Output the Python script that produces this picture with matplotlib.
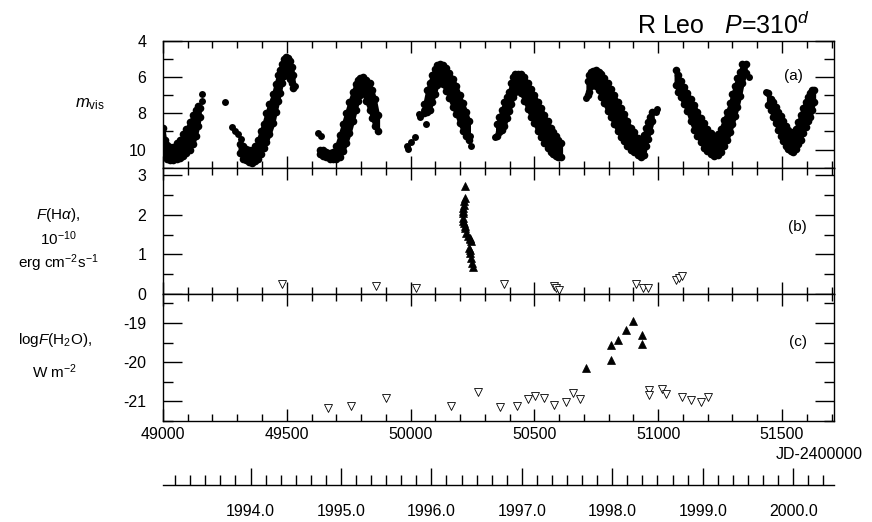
import numpy as np
import matplotlib
matplotlib.use("Agg")
import matplotlib.pyplot as plt

plt.rcParams['font.family'] = ['Liberation Sans', 'DejaVu Sans']
plt.rcParams['mathtext.fontset'] = 'custom'
plt.rcParams['mathtext.rm'] = 'Liberation Sans'
plt.rcParams['mathtext.it'] = 'Liberation Sans:italic'
plt.rcParams['axes.linewidth'] = 1.0

# (a) visual light curve: dense band read as bright / faint edges
jd_vis = [49001, 49008, 49015, 49028, 49042, 49055, 49068, 49082, 49095, 49108, 49122, 49132, 49142, 49148,
          49310, 49322, 49335, 49348, 49360, 49372, 49384, 49394, 49406, 49418, 49430, 49445, 49455, 49465,
          49472, 49479, 49488, 49496, 49504, 49512, 49520, 49527,
          49633, 49645, 49660, 49673, 49688, 49700, 49714, 49727, 49740, 49753, 49767, 49778, 49787, 49797,
          49808, 49820, 49835, 49845, 49855, 49868,
          50056, 50068, 50077, 50087, 50097, 50107, 50117, 50130, 50144, 50157, 50171, 50185, 50198, 50211,
          50224, 50235,
          50350, 50359, 50369, 50379, 50389, 50399, 50407, 50413, 50422, 50433, 50446, 50460, 50473, 50487,
          50500, 50513, 50527, 50540, 50553, 50567, 50577, 50587, 50597, 50607,
          50715, 50722, 50728, 50738, 50749, 50759, 50769, 50782, 50796, 50809, 50822, 50836, 50849, 50862,
          50876, 50890, 50903, 50917, 50930, 50943, 50950, 50957, 50967, 50977,
          51071, 51081, 51091, 51104, 51118, 51131, 51145, 51158, 51172, 51185, 51199, 51212, 51226, 51240,
          51253, 51266, 51279, 51290, 51300, 51310, 51320, 51330, 51340, 51353,
          51444, 51454, 51464, 51474, 51485, 51495, 51505, 51515, 51525, 51535, 51545, 51555, 51565, 51575,
          51585, 51595, 51605, 51615, 51622, 51629]
mvis_bright = [8.8, 9.5, 9.75, 9.85, 9.85, 9.65, 9.5, 9.15, 8.85, 8.5, 8.1, 7.8, 7.6, 7.7,
               9.7, 9.8, 9.95, 10.0, 10.05, 9.8, 9.5, 9.0, 8.6, 8.0, 7.5, 6.95, 6.4, 5.9,
               5.6, 5.25, 5.0, 4.9, 4.95, 5.1, 5.45, 5.9,
               10.0, 10.05, 10.15, 10.2, 10.15, 9.8, 9.2, 8.6, 8.0, 7.4, 6.8, 6.4, 6.15, 6.05,
               6.0, 6.15, 6.35, 6.7, 7.2, 8.1,
               7.5, 6.7, 6.3, 5.9, 5.55, 5.35, 5.3, 5.35, 5.5, 5.75, 6.1, 6.5, 7.0, 7.45,
               7.9, 8.4,
               8.6, 8.2, 7.8, 7.4, 7.1, 6.8, 6.3, 6.0, 5.85, 5.8, 5.85, 6.0, 6.3, 6.65,
               7.0, 7.35, 7.7, 8.1, 8.45, 8.8, 9.05, 9.25, 9.45, 9.65,
               6.2, 5.9, 5.7, 5.65, 5.62, 5.7, 5.85, 6.05, 6.3, 6.65, 7.0, 7.35, 7.7, 8.05,
               8.45, 8.8, 9.05, 9.35, 9.65, 9.2, 8.8, 8.5, 8.2, 7.9,
               5.6, 5.9, 6.2, 6.55, 6.85, 7.2, 7.55, 7.9, 8.25, 8.55, 8.85, 9.1, 9.3, 9.15,
               8.85, 8.35, 7.9, 7.45, 6.95, 6.5, 6.05, 5.7, 5.3, 5.25,
               6.9, 7.2, 7.4, 7.65, 7.9, 8.15, 8.4, 8.7, 8.9, 9.1, 9.05, 8.85, 8.5, 8.1,
               7.7, 7.35, 7.1, 6.9, 6.7, 6.7]
mvis_faint = [9.5, 10.35, 10.5, 10.6, 10.6, 10.5, 10.45, 10.35, 10.2, 10.0, 9.7, 9.25, 8.7, 8.2,
              10.2, 10.5, 10.6, 10.7, 10.75, 10.65, 10.5, 10.25, 9.9, 9.6, 9.15, 8.55, 7.9, 7.3,
              6.85, 6.35, 5.95, 5.7, 5.85, 6.1, 6.35, 6.6,
              10.25, 10.35, 10.4, 10.5, 10.55, 10.5, 10.4, 10.1, 9.65, 9.1, 8.4, 7.8, 7.3, 7.0,
              6.85, 7.3, 7.8, 8.25, 8.7, 9.0,
              8.0, 7.9, 7.8, 7.35, 6.95, 6.45, 6.15, 6.4, 6.75, 7.15, 7.65, 8.05, 8.55, 8.95,
              9.25, 9.45,
              9.25, 9.05, 8.9, 8.7, 8.25, 7.85, 7.5, 7.1, 6.8, 6.7, 6.9, 7.3, 7.75, 8.2,
              8.55, 8.95, 9.3, 9.65, 9.9, 10.15, 10.25, 10.35, 10.4, 10.4,
              7.0, 6.8, 6.5, 6.4, 6.5, 6.7, 7.1, 7.45, 7.85, 8.2, 8.6, 8.95, 9.3, 9.55,
              9.8, 10.0, 10.15, 10.3, 10.4, 10.3, 9.8, 9.4, 8.95, 8.45,
              6.45, 6.8, 7.1, 7.5, 7.85, 8.4, 8.9, 9.25, 9.6, 9.9, 10.1, 10.25, 10.35, 10.3,
              10.15, 9.8, 9.45, 9.05, 8.6, 8.15, 7.65, 7.05, 6.35, 5.75,
              7.55, 7.8, 8.2, 8.55, 8.9, 9.25, 9.55, 9.8, 9.95, 10.1, 10.15, 9.95, 9.7, 9.45,
              9.1, 8.75, 8.45, 8.2, 7.8, 7.35]
jd_vis_single = [49156, 49157, 49250, 49277, 49290, 49304, 49317, 49532, 49626, 49640, 49984, 49989,
                 50003, 50016, 50036, 50040, 50063, 50056, 50240, 50245, 50339, 50708, 50990, 50997,
                 51367, 51434]
mvis_single = [6.96, 7.3, 7.35, 8.73, 8.97, 9.15, 9.42, 6.5, 9.06, 9.28, 9.8, 9.97,
               9.6, 9.33, 8.05, 8.2, 8.6, 7.8, 9.24, 9.83, 9.33, 7.14, 7.9, 7.78,
               5.99, 6.83]

# (b) H-alpha flux, 1e-10 erg cm-2 s-1
jd_ha = [50218, 50218, 50216, 50214, 50212, 50211, 50211, 50211, 50213, 50215, 50218, 50221, 50224,
         50231, 50238, 50242, 50245, 50236, 50238, 50242, 50245, 50249, 50251]
f_ha = [2.71, 2.42, 2.33, 2.25, 2.17, 2.1, 2.04, 1.92, 1.85, 1.79, 1.72, 1.67, 1.54,
        1.47, 1.42, 1.38, 1.33, 1.17, 1.1, 1.04, 0.92, 0.79, 0.68]
jd_ha_lim = [49479, 49862, 50023, 50379, 50580, 50587, 50600, 50910, 50937, 50957, 51071, 51085, 51098]
f_ha_lim = [0.25, 0.21, 0.17, 0.25, 0.21, 0.15, 0.12, 0.25, 0.16, 0.16, 0.37, 0.42, 0.47]

# (c) log F(H2O), W m-2
jd_h2o = [50708, 50809, 50809, 50836, 50870, 50900, 50933, 50933]
logf_h2o = [-20.15, -19.94, -19.56, -19.43, -19.18, -18.94, -19.32, -19.53]
jd_h2o_lim = [49667, 49761, 49902, 50164, 50272, 50363, 50430, 50473, 50504, 50540, 50578, 50628,
              50655, 50684, 50964, 50964, 51017, 51031, 51095, 51132, 51172, 51203]
logf_h2o_lim = [-21.18, -21.12, -20.91, -21.12, -20.76, -21.14, -21.12, -20.95, -20.87, -20.91, -21.08,
                -21.02, -20.78, -20.93, -20.72, -20.85, -20.68, -20.82, -20.89, -20.97, -21.02, -20.89]

years = [1994, 1995, 1996, 1997, 1998, 1999, 2000]

x_lo, x_hi = 49000, 51710


def year_to_jd(y):
    return 49353.5 + (np.asarray(y) - 1994.0) * 365.25


def style_axis(ax, ymajor, yminor):
    ax.set_xlim(x_lo, x_hi)
    ax.set_xticks(np.arange(49000, 51701, 500))
    ax.set_xticks(np.arange(49000, 51701, 100), minor=True)
    ax.set_yticks(ymajor)
    ax.set_yticks(yminor, minor=True)
    ax.tick_params(axis='both', which='both', direction='in', top=True, right=True,
                   labelsize=11.5, width=1.0)
    ax.tick_params(axis='x', which='major', length=8.5)
    ax.tick_params(axis='x', which='minor', length=5)
    ax.tick_params(axis='y', which='major', length=13.5, pad=12)
    ax.tick_params(axis='y', which='minor', length=7)
    ax.tick_params(axis='x', labelbottom=False)


fig = plt.figure(figsize=(8.72, 5.22), dpi=100)
left, width, h = 0.1869, 0.7695, 0.2427
ax_a = fig.add_axes([left, 0.1935 + 2 * h, width, h])
ax_b = fig.add_axes([left, 0.1935 + h, width, h])
ax_c = fig.add_axes([left, 0.1935, width, h])

# panel (a)
jd = np.array(jd_vis)
mb = np.array(mvis_bright)
mf = np.array(mvis_faint)
breaks = np.where(np.diff(jd) > 40)[0] + 1
for seg in np.split(np.arange(len(jd)), breaks):
    ax_a.fill_between(jd[seg], mb[seg], mf[seg], facecolor='k', edgecolor='k', lw=2.5)
ax_a.plot(jd, mb, 'o', color='k', ms=5.5, mew=0)
ax_a.plot(jd, mf, 'o', color='k', ms=5.5, mew=0)
ax_a.plot(jd_vis_single, mvis_single, 'o', color='k', ms=5, mew=0)
ax_a.set_ylim(11, 4)
style_axis(ax_a, [4, 6, 8, 10], [5, 7, 9, 11])
ax_a.set_yticklabels(['4', '6', '8', '10'])
ax_a.text(0.94, 0.72, '(a)', transform=ax_a.transAxes, ha='center', va='center', fontsize=11)

# panel (b)
ax_b.plot(jd_ha, f_ha, '^', color='k', ms=5.5, mew=0.5)
ax_b.plot(jd_ha_lim, f_ha_lim, 'v', mfc='white', mec='k', ms=5.5, mew=0.6)
ax_b.set_ylim(0, 3.18)
style_axis(ax_b, [0, 1, 2, 3], [0.5, 1.5, 2.5])
ax_b.text(0.945, 0.53, '(b)', transform=ax_b.transAxes, ha='center', va='center', fontsize=11)

# panel (c)
ax_c.plot(jd_h2o, logf_h2o, '^', color='k', ms=6, mew=0.5)
ax_c.plot(jd_h2o_lim, logf_h2o_lim, 'v', mfc='white', mec='k', ms=6, mew=0.6)
ax_c.set_ylim(-21.48, -18.27)
style_axis(ax_c, [-19, -20, -21], [-18.5, -19.5, -20.5, -21.5])
ax_c.set_yticklabels(['-19', '-20', '-21'])
ax_c.tick_params(axis='x', labelbottom=True, pad=4)
ax_c.text(0.946, 0.62, '(c)', transform=ax_c.transAxes, ha='center', va='center', fontsize=11)

# y labels
fig.text(0.103, 0.80, r'$m_{\rm vis}$', ha='center', va='center', fontsize=12)
fig.text(0.067, 0.54, r'$F$(H$\alpha$),' + '\n' + r'10$^{-10}$' + '\n' + r'erg cm$^{-2}$s$^{-1}$',
         ha='center', va='center', fontsize=11, linespacing=1.3)
fig.text(0.063, 0.318, r'log$F$(H$_2$O),' + '\n' + r'W m$^{-2}$',
         ha='center', va='center', fontsize=11, linespacing=1.9)

# title
fig.text(0.929, 0.952, r'R Leo   $P$=310$^{d}$', ha='right', va='center', fontsize=18)
fig.text(0.989, 0.130, 'JD-2400000', ha='right', va='center', fontsize=11.5)

# year axis
ax_y = fig.add_axes([left, 0.0709, width, 0.04])
ax_y.set_xlim(x_lo, x_hi)
for s in ['top', 'left', 'right']:
    ax_y.spines[s].set_visible(False)
ax_y.set_yticks([])
ax_y.set_xticks(year_to_jd(years))
ax_y.set_xticklabels(['%.1f' % y for y in years])
ax_y.set_xticks(year_to_jd(np.arange(1993 + 1 / 6, 2000.4, 1 / 6)), minor=True)
ax_y.tick_params(axis='x', which='both', direction='in', width=1.0, labelsize=11.5)
ax_y.tick_params(axis='x', which='major', length=12.5, pad=14)
ax_y.tick_params(axis='x', which='minor', length=7)
ax_y.patch.set_alpha(0)

fig.savefig("out.png", dpi=100)
